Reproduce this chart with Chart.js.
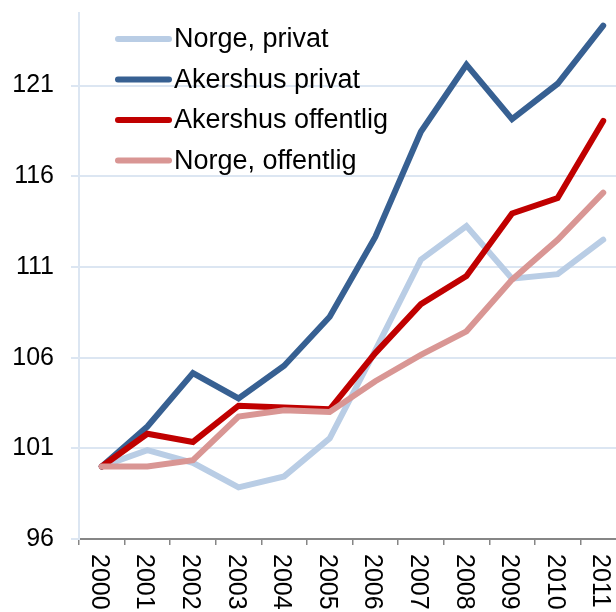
<!DOCTYPE html>
<html>
<head>
<meta charset="utf-8">
<style>
    html, body { margin: 0; padding: 0; overflow: hidden; background: #fff; }
</style>
</head>
<body>
<canvas id="myChart" width="640" height="612"></canvas>

<script src="https://cdn.jsdelivr.net/npm/chart.js"></script>

<script>
    // years on the x axis
    const years = ['2000', '2001', '2002', '2003', '2004', '2005', '2006', '2007', '2008', '2009', '2010', '2011'];
    // y axis ticks (index, 2000 = 100)
    const yTicks = [96, 101, 106, 111, 116, 121];

    const norgePrivat       = [100, 100.9, 100.2, 98.85, 99.45, 101.55, 106.4, 111.4, 113.25, 110.35, 110.6, 112.5];
    const akershusPrivat    = [100, 102.2, 105.15, 103.75, 105.55, 108.25, 112.65, 118.45, 122.15, 119.15, 121.1, 124.3];
    const akershusOffentlig = [100, 101.8, 101.35, 103.35, 103.25, 103.15, 106.25, 108.95, 110.5, 113.95, 114.8, 119.05];
    const norgeOffentlig    = [100, 100.0, 100.35, 102.75, 103.1, 103.0, 104.7, 106.15, 107.45, 110.3, 112.5, 115.1];

    const FONT = '"Liberation Sans", Arial, sans-serif';

    // legend drawn inside the plot, top left, with line swatches
    const lineLegend = {
        id: 'lineLegend',
        afterDatasetsDraw(chart) {
            const ctx = chart.ctx;
            const area = chart.chartArea;
            ctx.save();
            ctx.font = '27px ' + FONT;
            ctx.textBaseline = 'middle';
            chart.data.datasets.forEach(function (ds, i) {
                let y = area.top + 26 + i * 40.5;
                let x = area.left + 39;
                ctx.strokeStyle = ds.borderColor;
                ctx.lineWidth = ds.borderWidth;
                ctx.lineCap = 'round';
                ctx.beginPath();
                ctx.moveTo(x, y);
                ctx.lineTo(x + 51, y);
                ctx.stroke();
                ctx.fillStyle = '#000';
                ctx.fillText(ds.label, x + 56, y + 1);
            });
            ctx.restore();
        }
    };

    // x labels rotated so they read top to bottom
    const downLabels = {
        id: 'downLabels',
        afterDraw(chart) {
            const ctx = chart.ctx;
            const xs = chart.scales.x;
            ctx.save();
            ctx.font = '25px ' + FONT;
            ctx.fillStyle = '#000';
            ctx.textAlign = 'left';
            ctx.textBaseline = 'middle';
            xs.ticks.forEach(function (t, i) {
                let px = xs.getPixelForTick(i);
                ctx.save();
                ctx.translate(px - 3, xs.top + 15);
                ctx.rotate(Math.PI / 2);
                ctx.fillText(chart.data.labels[i], 0, 0);
                ctx.restore();
            });
            ctx.restore();
        }
    };

    const ctx = document.getElementById('myChart');
    const chart = new Chart(ctx, {
        type: 'line',
        data: {
            labels: years,
            datasets: [
                {label: 'Norge, privat', data: norgePrivat, borderColor: '#b9cde5', order: 4},
                {label: 'Akershus privat', data: akershusPrivat, borderColor: '#376092', order: 3},
                {label: 'Akershus offentlig', data: akershusOffentlig, borderColor: '#c00000', order: 2},
                {label: 'Norge, offentlig', data: norgeOffentlig, borderColor: '#d99694', order: 1}
            ].map(function (d) {
                return Object.assign(d, {
                    borderWidth: 6,
                    pointRadius: 0,
                    pointHoverRadius: 0,
                    tension: 0,
                    fill: false,
                    borderCapStyle: 'round'
                });
            })
        },
        options: {
            responsive: false,
            animation: false,
            layout: {padding: {top: 13, right: 14, left: 0, bottom: 0}},
            plugins: {
                legend: {display: false},
                tooltip: {enabled: false}
            },
            scales: {
                x: {
                    offset: true,
                    z: 1,
                    afterFit: function (scale) {
                        scale.height = 73;
                        scale.paddingLeft = 0;
                        scale.paddingRight = 0;
                    },
                    grid: {
                        offset: true,
                        drawOnChartArea: false,
                        drawTicks: true,
                        tickLength: 6,
                        color: '#868686',
                        lineWidth: 1.5
                    },
                    border: {color: '#868686', width: 2},
                    ticks: {display: false}
                },
                y: {
                    min: 96,
                    max: 125,
                    afterFit: function (scale) {
                        scale.width = 79;
                        scale.paddingTop = 0;
                        scale.paddingBottom = 0;
                    },
                    afterBuildTicks: function (scale) {
                        scale.ticks = yTicks.map(function (v) { return {value: v}; });
                    },
                    grid: {
                        color: '#dce6f2',
                        lineWidth: 2,
                        tickLength: 8
                    },
                    border: {color: '#dce6f2', width: 2},
                    ticks: {
                        padding: 17,
                        color: '#000',
                        font: {family: FONT, size: 25}
                    }
                }
            }
        },
        plugins: [lineLegend, downLabels]
    });
</script>
</body>
</html>
